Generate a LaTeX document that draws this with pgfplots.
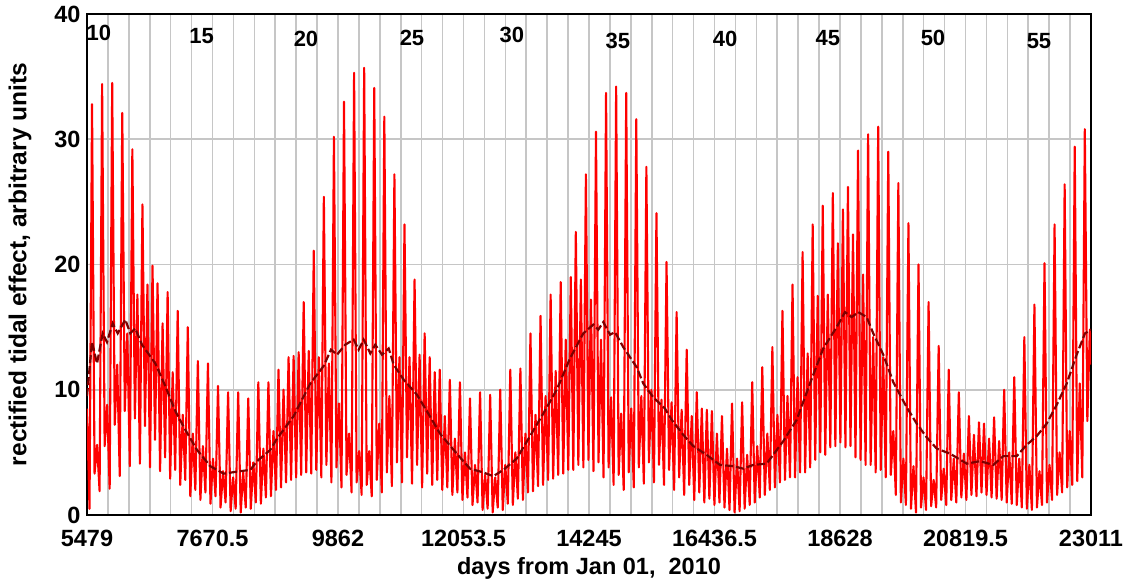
\documentclass[border=0pt]{standalone}
\usepackage{pgfplots}
\pgfplotsset{compat=1.18}
\usepackage{fontspec}
\setmainfont{Liberation Sans}
\definecolor{tide}{RGB}{255,0,0}
\definecolor{tidemean}{RGB}{125,0,0}
\definecolor{gridgray}{RGB}{198,198,198}

\begin{document}
\begin{tikzpicture}
\begin{axis}[
  at={(0pt,0pt)}, anchor=south west,
  width=1004pt, height=501pt, scale only axis,
  xmin=5479, xmax=23011, ymin=0, ymax=40,
  scaled x ticks=false, scaled y ticks=false,
  xtick={5479,7670.5,9862,12053.5,14245,16436.5,18628,20819.5,23011},
  xticklabels={5479,7670.5,9862,12053.5,14245,16436.5,18628,20819.5,23011},
  % one grid line per year (365.25 days)
  minor xtick={5844.25,6209.5,6574.75,6940,7305.25,7670.5,8035.75,8401,
    8766.25,9131.5,9496.75,9862,10227.25,10592.5,10957.75,11323,11688.25,
    12053.5,12418.75,12784,13149.25,13514.5,13879.75,14245,14610.25,14975.5,
    15340.75,15706,16071.25,16436.5,16801.75,17167,17532.25,17897.5,18262.75,
    18628,18993.25,19358.5,19723.75,20089,20454.25,20819.5,21184.75,21550,
    21915.25,22280.5,22645.75},
  ytick={0,10,20,30,40}, yticklabels={0,10,20,30,40},
  xmajorgrids=false, xminorgrids=true, ymajorgrids=true,
  grid style={gridgray, line width=1.6pt},
  major grid style={gridgray, line width=1.6pt},
  minor grid style={gridgray, line width=1.6pt},
  major tick length=0pt, minor tick length=0pt,
  axis line style={black, line width=2.5pt},
  tick label style={font=\bfseries\fontsize{23.5}{25}\selectfont},
  xticklabel style={yshift=-12pt},
  yticklabel style={xshift=-3pt},
  xlabel={days from Jan 01,~~2010},
  ylabel={rectified tidal effect, arbitrary units},
  label style={font=\bfseries\fontsize{23.5}{25}\selectfont},
  ylabel style={font=\bfseries\fontsize{24.5}{26}\selectfont},
  xlabel style={at={(axis description cs:0.5,-0.1058)}, anchor=center},
  ylabel style={at={(axis description cs:-0.0667,0.5)}, anchor=center},
]

% rectified tidal effect, one vertex every 44 days
\addplot[tide, line width=2.1pt, line join=round] coordinates {
(5479,8.5)(5523,0.5)(5567,32.8)(5611,3.3)
(5655,5.6)(5699,1.9)(5743,34.4)(5787,5.5)
(5831,8.8)(5875,2.1)(5919,34.5)(5963,7.2)
(6007,12.0)(6051,3.1)(6095,32.1)(6139,8.3)
(6183,14.5)(6227,3.9)(6271,29.2)(6315,7.7)
(6359,17.6)(6403,4.1)(6447,24.8)(6491,7.1)
(6535,18.4)(6579,3.8)(6623,19.9)(6667,6.0)
(6711,18.5)(6755,3.5)(6799,15.3)(6843,4.6)
(6887,17.8)(6931,2.9)(6975,11.4)(7019,3.6)
(7063,16.3)(7107,2.4)(7151,8.0)(7195,2.8)
(7239,15.0)(7283,1.5)(7327,6.5)(7371,2.0)
(7415,12.3)(7459,1.2)(7503,5.5)(7547,1.8)
(7591,12.1)(7635,0.9)(7679,4.5)(7723,1.5)
(7767,10.3)(7811,0.6)(7855,3.5)(7899,1.0)
(7943,9.8)(7987,0.3)(8031,3.0)(8075,0.5)
(8119,9.8)(8163,0.2)(8207,3.4)(8251,0.6)
(8295,9.3)(8339,0.5)(8383,4.2)(8427,1.0)
(8471,10.6)(8515,0.9)(8559,5.3)(8603,1.4)
(8647,10.6)(8691,1.5)(8735,6.7)(8779,2.0)
(8823,11.6)(8867,2.2)(8911,10.0)(8955,2.6)
(8999,12.6)(9043,2.8)(9087,12.7)(9131,3.0)
(9175,13.0)(9219,3.2)(9263,17.0)(9307,3.4)
(9351,13.1)(9395,3.3)(9439,21.1)(9483,3.6)
(9527,12.6)(9571,3.0)(9615,25.4)(9659,4.0)
(9703,12.1)(9747,2.6)(9791,30.2)(9835,3.8)
(9879,8.9)(9923,2.2)(9967,33.0)(10011,3.2)
(10055,6.5)(10099,1.8)(10143,35.3)(10187,2.6)
(10231,5.1)(10275,1.6)(10319,35.7)(10363,2.4)
(10407,5.1)(10451,1.5)(10495,34.1)(10539,2.8)
(10583,7.3)(10627,1.8)(10671,31.8)(10715,3.4)
(10759,9.5)(10803,2.3)(10847,27.2)(10891,4.2)
(10935,12.6)(10979,2.6)(11023,23.2)(11067,4.6)
(11111,12.6)(11155,2.5)(11199,18.8)(11243,4.0)
(11287,12.8)(11331,2.2)(11375,14.5)(11419,3.3)
(11463,12.6)(11507,2.4)(11551,11.4)(11595,2.8)
(11639,11.6)(11683,2.0)(11727,7.9)(11771,2.2)
(11815,10.8)(11859,1.6)(11903,6.1)(11947,1.8)
(11991,10.6)(12035,1.2)(12079,5.0)(12123,1.4)
(12167,9.3)(12211,0.8)(12255,4.0)(12299,1.0)
(12343,9.8)(12387,0.4)(12431,3.2)(12475,0.5)
(12519,9.6)(12563,0.2)(12607,3.0)(12651,0.6)
(12695,10.0)(12739,0.4)(12783,4.0)(12827,0.9)
(12871,11.6)(12915,0.8)(12959,5.0)(13003,1.3)
(13047,11.7)(13091,1.2)(13135,6.5)(13179,1.8)
(13223,14.5)(13267,1.9)(13311,8.0)(13355,2.3)
(13399,15.9)(13443,2.4)(13487,9.5)(13531,2.8)
(13575,17.6)(13619,2.9)(13663,11.5)(13707,3.2)
(13751,18.6)(13795,3.3)(13839,14.0)(13883,3.6)
(13927,19.0)(13971,3.6)(14015,22.6)(14059,4.0)
(14103,18.8)(14147,3.8)(14191,27.2)(14235,4.4)
(14279,17.2)(14323,3.5)(14367,30.6)(14411,4.2)
(14455,14.0)(14499,3.0)(14543,33.7)(14587,3.8)
(14631,9.4)(14675,2.4)(14719,34.2)(14763,3.2)
(14807,8.1)(14851,2.0)(14895,33.7)(14939,3.4)
(14983,8.5)(15027,2.2)(15071,31.6)(15115,3.8)
(15159,9.5)(15203,2.5)(15247,27.8)(15291,4.2)
(15335,10.0)(15379,2.6)(15423,24.1)(15467,4.0)
(15511,9.2)(15555,2.4)(15599,20.2)(15643,3.6)
(15687,9.0)(15731,2.0)(15775,16.2)(15819,3.0)
(15863,8.4)(15907,1.6)(15951,13.2)(15995,2.4)
(16039,7.9)(16083,1.2)(16127,9.8)(16171,1.8)
(16215,8.5)(16259,1.0)(16303,8.4)(16347,1.3)
(16391,8.3)(16435,0.8)(16479,6.5)(16523,1.0)
(16567,7.9)(16611,0.6)(16655,5.3)(16699,0.4)
(16743,8.9)(16787,0.2)(16831,4.5)(16875,0.3)
(16919,9.0)(16963,0.5)(17007,4.8)(17051,0.8)
(17095,10.6)(17139,1.0)(17183,5.5)(17227,1.4)
(17271,11.8)(17315,1.6)(17359,6.5)(17403,2.0)
(17447,13.4)(17491,2.2)(17535,8.0)(17579,2.6)
(17623,16.3)(17667,2.8)(17711,9.5)(17755,3.0)
(17799,18.4)(17843,3.0)(17887,11.0)(17931,3.4)
(17975,21.0)(18019,3.4)(18063,12.9)(18107,3.8)
(18151,23.2)(18195,4.4)(18239,17.5)(18283,5.0)
(18327,24.7)(18371,4.8)(18415,17.6)(18459,5.4)
(18503,25.7)(18547,5.5)(18591,21.7)(18635,5.8)
(18679,24.4)(18723,5.4)(18767,26.2)(18811,5.5)
(18855,22.4)(18899,4.6)(18943,29.1)(18987,4.4)
(19031,19.2)(19075,4.0)(19119,30.4)(19163,4.0)
(19207,14.2)(19251,3.4)(19295,31.0)(19339,3.6)
(19383,12.6)(19427,3.0)(19471,29.0)(19515,3.2)
(19559,6.7)(19603,1.6)(19647,26.5)(19691,1.0)
(19735,4.5)(19779,0.8)(19823,23.3)(19867,0.5)
(19911,3.9)(19955,0.2)(19999,20.0)(20043,0.6)
(20087,3.0)(20131,0.4)(20175,17.0)(20219,0.7)
(20263,2.8)(20307,0.6)(20351,13.5)(20395,1.2)
(20439,3.7)(20483,0.8)(20527,11.6)(20571,1.2)
(20615,4.5)(20659,1.0)(20703,9.8)(20747,1.4)
(20791,4.9)(20835,1.2)(20879,7.9)(20923,1.6)
(20967,6.4)(21011,1.5)(21055,7.4)(21099,1.8)
(21143,7.3)(21187,1.6)(21231,6.1)(21275,1.4)
(21319,7.8)(21363,1.3)(21407,5.9)(21451,1.2)
(21495,10.0)(21539,1.0)(21583,5.0)(21627,0.9)
(21671,11.0)(21715,0.8)(21759,4.5)(21803,0.6)
(21847,14.2)(21891,0.5)(21935,4.0)(21979,0.4)
(22023,16.8)(22067,0.6)(22111,3.5)(22155,0.8)
(22199,20.1)(22243,1.0)(22287,4.0)(22331,1.2)
(22375,23.2)(22419,1.6)(22463,5.0)(22507,1.8)
(22551,26.4)(22595,2.2)(22639,6.7)(22683,2.4)
(22727,29.4)(22771,2.7)(22815,10.5)(22859,3.0)
(22903,30.8)(22947,7.5)(22991,14.8)(23011,12.0)
};

% running mean
\addplot[tidemean, line width=2.2pt, dash pattern=on 8pt off 3pt] coordinates {
(5479,9.5)(5566,13.8)(5654,12.1)(5753,14.5)(5828,13.8)(5928,15.3)
(6015,14.5)(6148,15.6)(6235,14.5)(6322,14.9)(6439,13.6)(6672,12.1)
(6846,10.3)(7021,8.3)(7196,6.8)(7400,5.2)(7632,3.9)(7866,3.3)
(8156,3.5)(8331,3.6)(8448,4.3)(8680,5.2)(8797,6.1)(9088,7.9)
(9378,10.5)(9612,11.9)(9740,13.2)(9845,12.8)(9989,13.6)(10136,14.0)
(10223,13.2)(10311,14.0)(10426,12.9)(10513,13.6)(10630,12.8)(10747,13.3)
(10835,12.0)(11009,10.8)(11241,9.6)(11439,8.1)(11643,6.5)(11935,4.9)
(12167,3.7)(12399,3.4)(12574,3.1)(12749,3.6)(12982,4.5)(13215,6.3)
(13447,8.1)(13681,10.0)(13913,12.5)(14145,14.5)(14320,15.2)(14407,14.8)
(14495,15.4)(14612,14.4)(14699,14.6)(14844,13.4)(15078,11.8)(15193,10.5)
(15368,9.4)(15572,8.5)(15689,7.6)(15892,6.4)(16066,5.5)(16300,4.8)
(16532,4.0)(16765,3.9)(16939,3.7)(17114,4.0)(17348,4.1)(17638,5.9)
(17872,7.6)(18104,10.5)(18336,13.3)(18570,15.0)(18715,16.2)(18832,15.8)
(18947,16.2)(19094,15.8)(19209,14.5)(19384,12.8)(19559,10.6)(19793,8.6)
(19967,7.3)(20142,6.2)(20317,5.3)(20549,4.9)(20841,4.1)(21073,4.3)
(21305,4.0)(21480,4.7)(21714,4.7)(21888,5.6)(22063,6.3)(22237,7.3)
(22412,8.8)(22587,10.5)(22761,12.8)(22906,14.5)(23011,14.8)
};

% year-count labels along the top
\begin{scope}[every node/.style={font=\bfseries\fontsize{22}{24}\selectfont}]
\node at (axis cs:5688,38.52) {10};
\node at (axis cs:7482,38.28) {15};
\node at (axis cs:9303,38.0) {20};
\node at (axis cs:11154,38.12) {25};
\node at (axis cs:12900,38.32) {30};
\node at (axis cs:14751,37.86) {35};
\node at (axis cs:16620,38.02) {40};
\node at (axis cs:18418,38.12) {45};
\node at (axis cs:20252,38.12) {50};
\node at (axis cs:22103,37.86) {55};
\end{scope}
\end{axis}
\pgfresetboundingbox
\path[use as bounding box] (-87pt,-67pt) rectangle (1038pt,515pt);
\end{tikzpicture}
\end{document}
